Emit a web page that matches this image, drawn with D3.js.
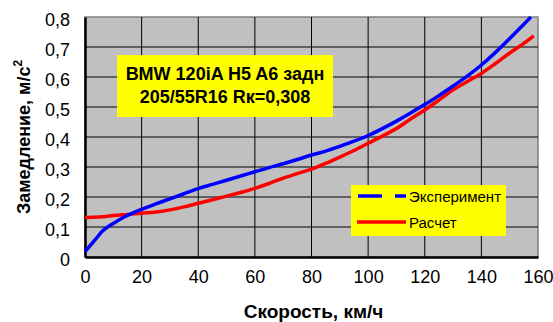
<!DOCTYPE html>
<html>
<head>
<meta charset="utf-8">
<script src="https://cdn.jsdelivr.net/npm/d3@7"></script>
<style>
  body { margin: 0; background: #fff; }
  svg { display: block; font-family: "Liberation Sans", Arial, sans-serif; }
</style>
</head>
<body>
<div id="chart"></div>
<script>
// Data
const expSpeed = [0, 2, 4, 6, 8, 10, 14, 20, 25, 30, 35, 40, 45, 50, 55, 60, 65, 70, 75, 80, 85, 90, 95, 100, 105, 110, 115, 120, 125, 130, 135, 140, 145, 150, 155, 157.5];
const expDecel = [0.018, 0.04, 0.062, 0.085, 0.1, 0.112, 0.134, 0.159, 0.177, 0.194, 0.211, 0.228, 0.242, 0.256, 0.27, 0.284, 0.298, 0.311, 0.325, 0.34, 0.353, 0.369, 0.386, 0.405, 0.428, 0.453, 0.48, 0.508, 0.538, 0.57, 0.603, 0.64, 0.682, 0.728, 0.776, 0.8];
const calcSpeed = [0, 5, 10, 15, 20, 25, 30, 35, 40, 45, 50, 55, 60, 65, 70, 75, 80, 85, 90, 95, 100, 105, 110, 115, 120, 125, 130, 135, 140, 145, 150, 155, 158.5];
const calcDecel = [0.132, 0.133, 0.138, 0.142, 0.146, 0.15, 0.157, 0.167, 0.179, 0.191, 0.203, 0.215, 0.229, 0.245, 0.263, 0.278, 0.293, 0.312, 0.333, 0.355, 0.379, 0.403, 0.428, 0.46, 0.49, 0.523, 0.557, 0.585, 0.612, 0.645, 0.68, 0.712, 0.737];
const xTicks = [0, 20, 40, 60, 80, 100, 120, 140, 160];
const yTicks = [0, 0.1, 0.2, 0.3, 0.4, 0.5, 0.6, 0.7, 0.8];
const seriesNames = ["Эксперимент", "Расчет"];
const titleLines = ["BMW 120iA H5 A6 задн", "205/55R16 Rк=0,308"];

const W = 553, H = 322;
const margin = {left: 85, right: 15, top: 17, bottom: 65};

const svg = d3.select("#chart").append("svg")
    .attr("width", W)
    .attr("height", H);

const x = d3.scaleLinear().domain([0, 160]).range([margin.left, W - margin.right]);
const y = d3.scaleLinear().domain([0, 0.8]).range([H - margin.bottom, margin.top]);
const fmt = d => d === 0 ? "0" : d3.format(".1f")(d).replace(".", ",");

// plot area
svg.append("rect")
    .attr("x", x(0)).attr("y", y(0.8))
    .attr("width", x(160) - x(0)).attr("height", y(0) - y(0.8))
    .attr("fill", "#c0c0c0")
    .attr("stroke", "#808080")
    .attr("stroke-width", 1.5);

// grid
svg.append("g").selectAll("line")
    .data(xTicks.slice(1, -1))
    .join("line")
    .attr("x1", d => x(d)).attr("x2", d => x(d))
    .attr("y1", y(0)).attr("y2", y(0.8))
    .attr("stroke", "#000").attr("stroke-width", 1);
svg.append("g").selectAll("line")
    .data(yTicks.slice(1, -1))
    .join("line")
    .attr("x1", x(0)).attr("x2", x(160))
    .attr("y1", d => y(d)).attr("y2", d => y(d))
    .attr("stroke", "#000").attr("stroke-width", 1);

// axes
const xAxis = svg.append("g")
    .attr("transform", `translate(0,${y(0)})`)
    .call(d3.axisBottom(x).tickValues(xTicks).tickSize(0).tickPadding(13));
const yAxis = svg.append("g")
    .attr("transform", `translate(${x(0)},0)`)
    .call(d3.axisLeft(y).tickValues(yTicks).tickFormat(fmt).tickSize(0).tickPadding(15));
[xAxis, yAxis].forEach(g => {
  g.select(".domain").attr("stroke", "#000").attr("stroke-width", 2.5);
  g.selectAll("text").attr("font-size", 18).attr("fill", "#000")
    .attr("font-family", "Liberation Sans, Arial, sans-serif");
});
yAxis.selectAll("text").attr("dy", "0.45em");

// lines
const line = d3.line().x(d => x(d[0])).y(d => y(d[1])).curve(d3.curveMonotoneX);
const expData = d3.zip(expSpeed, expDecel);
const calcData = d3.zip(calcSpeed, calcDecel);
svg.append("path").datum(calcData)
    .attr("d", line).attr("fill", "none")
    .attr("stroke", "#ff0000").attr("stroke-width", 3.5);
svg.append("path").datum(expData)
    .attr("d", line).attr("fill", "none")
    .attr("stroke", "#0000ff").attr("stroke-width", 3.5);

// title box
svg.append("rect")
    .attr("x", 117).attr("y", 55).attr("width", 216).attr("height", 62)
    .attr("fill", "#ffff00");
svg.append("g").selectAll("text")
    .data(titleLines)
    .join("text")
    .attr("x", 225).attr("y", (d, i) => 80 + i * 23)
    .attr("text-anchor", "middle")
    .attr("font-size", 18).attr("font-weight", "bold")
    .text(d => d);

// legend
const lg = svg.append("g");
lg.append("rect")
    .attr("x", 351).attr("y", 185).attr("width", 155).attr("height", 51)
    .attr("fill", "#ffff00");
lg.append("line")
    .attr("x1", 358).attr("x2", 406).attr("y1", 196).attr("y2", 196)
    .attr("stroke", "#0000ff").attr("stroke-width", 3.5)
    .attr("stroke-dasharray", "24,13");
lg.append("line")
    .attr("x1", 357).attr("x2", 406).attr("y1", 222).attr("y2", 222)
    .attr("stroke", "#ff0000").attr("stroke-width", 3.5);
lg.selectAll("text")
    .data(seriesNames)
    .join("text")
    .attr("x", 409).attr("y", (d, i) => 201.5 + i * 26)
    .attr("font-size", 15)
    .text(d => d);

// axis titles
svg.append("text")
    .attr("x", x(80) + 2).attr("y", 318)
    .attr("text-anchor", "middle")
    .attr("font-size", 19).attr("font-weight", "bold")
    .text("Скорость, км/ч");
const yt = svg.append("text")
    .attr("transform", `translate(30,${(y(0) + y(0.8)) / 2}) rotate(-90)`)
    .attr("text-anchor", "middle")
    .attr("font-size", 18).attr("font-weight", "bold");
yt.append("tspan").text("Замедление, м/с");
yt.append("tspan").attr("dy", -8).attr("font-size", 12).text("2");
</script>
</body>
</html>
